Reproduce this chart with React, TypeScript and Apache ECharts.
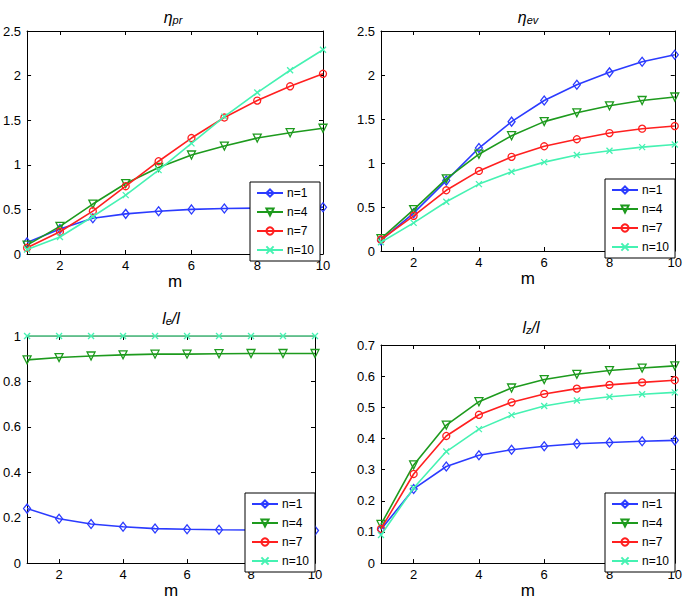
import React, { useEffect, useRef } from "react";
import * as echarts from "echarts";

const mValues = [1, 2, 3, 4, 5, 6, 7, 8, 9, 10];
const seriesLabels = ["n=1", "n=4", "n=7", "n=10"];
const xTicks = [2, 4, 6, 8, 10];

// eta_pr
const etaPrN1 = [0.13, 0.28, 0.4, 0.45, 0.48, 0.5, 0.51, 0.515, 0.52, 0.525];
const etaPrN4 = [0.1, 0.31, 0.56, 0.79, 0.97, 1.11, 1.21, 1.3, 1.36, 1.41];
const etaPrN7 = [0.07, 0.25, 0.48, 0.76, 1.04, 1.3, 1.53, 1.72, 1.88, 2.02];
const etaPrN10 = [0.05, 0.19, 0.42, 0.66, 0.94, 1.24, 1.54, 1.81, 2.06, 2.29];

// eta_ev
const etaEvN1 = [0.12, 0.43, 0.8, 1.17, 1.47, 1.71, 1.89, 2.03, 2.15, 2.23];
const etaEvN4 = [0.14, 0.47, 0.82, 1.1, 1.31, 1.47, 1.57, 1.65, 1.71, 1.75];
const etaEvN7 = [0.13, 0.4, 0.69, 0.91, 1.07, 1.19, 1.27, 1.34, 1.39, 1.42];
const etaEvN10 = [0.1, 0.32, 0.56, 0.76, 0.9, 1.01, 1.09, 1.14, 1.18, 1.21];

// l_e / l
const leN1 = [0.24, 0.195, 0.172, 0.16, 0.152, 0.149, 0.147, 0.146, 0.145, 0.143];
const leN4 = [0.895, 0.905, 0.912, 0.917, 0.92, 0.92, 0.922, 0.923, 0.923, 0.923];
const leN7 = [1, 1, 1, 1, 1, 1, 1, 1, 1, 1];
const leN10 = [1, 1, 1, 1, 1, 1, 1, 1, 1, 1];

// l_z / l
const lzN1 = [0.108, 0.238, 0.31, 0.346, 0.364, 0.375, 0.383, 0.387, 0.391, 0.394];
const lzN4 = [0.124, 0.315, 0.443, 0.518, 0.562, 0.589, 0.606, 0.618, 0.626, 0.633];
const lzN7 = [0.11, 0.286, 0.408, 0.476, 0.516, 0.543, 0.56, 0.572, 0.58, 0.587];
const lzN10 = [0.09, 0.241, 0.358, 0.43, 0.475, 0.504, 0.522, 0.534, 0.542, 0.548];

const yRanges = [
  { max: 2.5, interval: 0.5 },
  { max: 2.5, interval: 0.5 },
  { max: 1, interval: 0.2 },
  { max: 0.7, interval: 0.1 },
];

const panelData = [
  [etaPrN1, etaPrN4, etaPrN7, etaPrN10],
  [etaEvN1, etaEvN4, etaEvN7, etaEvN10],
  [leN1, leN4, leN7, leN10],
  [lzN1, lzN4, lzN7, lzN10],
];

const COLORS = ["#2b3bff", "#1d9a1d", "#ff1f1f", "#45f2b2"];
const SYMBOLS = [
  "diamond",
  "path://M0,0L10,0L5,9Z",
  "circle",
  "path://M0,0L10,10M10,0L0,10",
];
const SYMBOL_SIZES: any[] = [[7, 9], 8, 7, 6];

const GRIDS = [
  { left: 22, top: 31, width: 301, height: 223 },
  { left: 381, top: 31, width: 294, height: 220 },
  { left: 22, top: 336, width: 293, height: 229 },
  { left: 381, top: 345, width: 294, height: 220 },
];
const LEGEND_POS = [
  { left: 250, top: 182 },
  { left: 605, top: 179 },
  { left: 245, top: 493 },
  { left: 605, top: 493 },
];

const FONT = "'Liberation Sans', Arial, Helvetica, sans-serif";

export default function App() {
  const ref = useRef<HTMLDivElement>(null);
  useEffect(() => {
    if (!ref.current) return;
    const chart = echarts.init(ref.current, null, { renderer: "svg" });

    const xAxes: any[] = [];
    const yAxes: any[] = [];
    const series: any[] = [];
    const legends: any[] = [];
    const axisLine = { show: true, onZero: false, lineStyle: { color: "#000", width: 1 } };

    GRIDS.forEach((g, p) => {
      const yr = yRanges[p];
      xAxes.push({
        type: "value",
        gridIndex: p,
        position: "bottom",
        min: 1,
        max: 10,
        name: "m",
        nameLocation: "middle",
        nameGap: 14,
        nameTextStyle: { fontSize: 17, color: "#000", fontFamily: FONT },
        axisLine,
        axisTick: { show: true, inside: true, length: 4, customValues: xTicks, lineStyle: { color: "#000" } },
        axisLabel: { show: true, customValues: xTicks, fontSize: 13, color: "#000", margin: 5, fontFamily: FONT },
        splitLine: { show: false },
      });
      xAxes.push({
        type: "value",
        gridIndex: p,
        position: "top",
        min: 1,
        max: 10,
        axisLine,
        axisTick: { show: true, inside: true, length: 4, customValues: xTicks, lineStyle: { color: "#000" } },
        axisLabel: { show: false },
        splitLine: { show: false },
      });
      yAxes.push({
        type: "value",
        gridIndex: p,
        position: "left",
        min: 0,
        max: yr.max,
        interval: yr.interval,
        axisLine,
        axisTick: { show: true, inside: true, length: 4, lineStyle: { color: "#000" } },
        axisLabel: { show: true, fontSize: 13, color: "#000", margin: 6, fontFamily: FONT },
        splitLine: { show: false },
      });
      yAxes.push({
        type: "value",
        gridIndex: p,
        position: "right",
        min: 0,
        max: yr.max,
        interval: yr.interval,
        axisLine,
        axisTick: { show: true, inside: true, length: 4, lineStyle: { color: "#000" } },
        axisLabel: { show: false },
        splitLine: { show: false },
      });

      const names: string[] = [];
      seriesLabels.forEach((lab, i) => {
        const name = `${lab}_${p}`;
        names.push(name);
        const noMarker = p === 2 && i === 2;
        series.push({
          type: "line",
          name,
          xAxisIndex: 2 * p,
          yAxisIndex: 2 * p,
          data: mValues.map((m, j) => [m, panelData[p][i][j]]),
          symbol: noMarker ? "none" : SYMBOLS[i],
          symbolSize: SYMBOL_SIZES[i],
          showSymbol: !noMarker,
          clip: false,
          lineStyle: { color: COLORS[i], width: 1.6 },
          itemStyle: { color: "rgba(255,255,255,0)", borderColor: COLORS[i], borderWidth: 1.3 },
          emphasis: { disabled: true },
          z: 2 + i,
        });
      });

      legends.push({
        show: true,
        left: LEGEND_POS[p].left,
        top: LEGEND_POS[p].top,
        orient: "vertical",
        data: names,
        formatter: (n: string) => n.split("_")[0],
        itemWidth: 26,
        itemHeight: 9,
        itemGap: 7,
        padding: [5, 6, 5, 6],
        backgroundColor: "#fff",
        borderColor: "#000",
        borderWidth: 1,
        textStyle: { fontSize: 12, color: "#000", fontFamily: FONT, padding: [0, 0, 0, -1] },
        selectedMode: false,
        z: 10,
      });
    });

    const mainStyle = { fontSize: 16, fontStyle: "italic", fontFamily: FONT, color: "#000", lineHeight: 16, verticalAlign: "top" };
    const subStyle = (pad: number) => ({
      fontSize: 11,
      fontStyle: "italic",
      fontFamily: FONT,
      color: "#000",
      lineHeight: 11,
      verticalAlign: "bottom",
      padding: [pad, 0, 0, 0],
    });

    const titles = [
      { x: 173, y: 17, text: "{a|η}{b|pr}", pad: 10 },
      { x: 528, y: 17, text: "{a|η}{b|ev}", pad: 10 },
      { x: 171, y: 318, text: "{a|l}{b|e}{a|/l}", pad: 13 },
      { x: 531, y: 327, text: "{a|l}{b|z}{a|/l}", pad: 13 },
    ];

    chart.setOption({
      animation: false,
      backgroundColor: "#fff",
      grid: GRIDS.map((g) => ({ ...g, containLabel: false })),
      xAxis: xAxes,
      yAxis: yAxes,
      legend: legends,
      series,
      graphic: titles.map((t) => ({
        type: "text",
        x: t.x,
        y: t.y,
        z: 20,
        style: {
          text: t.text,
          align: "center",
          verticalAlign: "middle",
          rich: { a: mainStyle, b: subStyle(t.pad) },
        },
      })),
    });
    return () => chart.dispose();
  }, []);

  return (
    <div
      ref={ref}
      style={{ position: "absolute", left: 0, top: 0, width: 685, height: 600, background: "#fff" }}
    />
  );
}
